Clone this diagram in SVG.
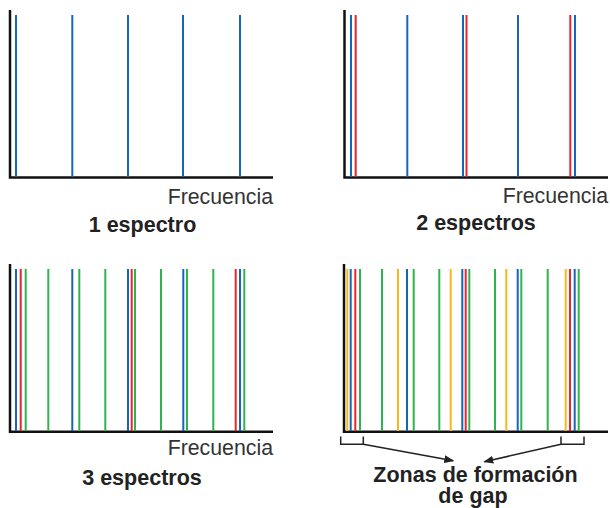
<svg xmlns="http://www.w3.org/2000/svg" width="610" height="508" viewBox="0 0 610 508">
<defs>
<marker id="arr" markerWidth="10" markerHeight="8" refX="9" refY="4" orient="auto" markerUnits="userSpaceOnUse">
<path d="M0,0 L10,4 L0,8 Z" fill="#222"/>
</marker>
</defs>
<style>
.ax{stroke:#111;stroke-width:2.5;fill:none}
.b{stroke:#1565b8;stroke-width:2}
.r{stroke:#ec2330;stroke-width:2}
.g{stroke:#2fb34c;stroke-width:2}
.y{stroke:#f9b818;stroke-width:2}
.freq{font-family:"Liberation Sans",Arial,sans-serif;font-size:21.3px;fill:#333;text-anchor:end}
.ttl{font-family:"Liberation Sans",Arial,sans-serif;font-size:21.5px;font-weight:bold;fill:#222;text-anchor:middle}
.br{stroke:#222;stroke-width:1.5;fill:none}
</style>
<rect width="610" height="508" fill="#fff"/>

<g id="panel1">
<path class="ax" d="M10,10 V177.5 H273"/>
<g>
<line class="b" x1="16" y1="15" x2="16" y2="177"/>
<line class="b" x1="72.3" y1="15" x2="72.3" y2="177"/>
<line class="b" x1="128" y1="15" x2="128" y2="177"/>
<line class="b" x1="183" y1="15" x2="183" y2="177"/>
<line class="b" x1="240" y1="15" x2="240" y2="177"/>
</g>
<text class="freq" x="273" y="204">Frecuencia</text>
<text class="ttl" x="142.5" y="232">1 espectro</text>
</g>

<g id="panel2">
<path class="ax" d="M344.5,10 V177.5 H608"/>
<g>
<line class="b" x1="351" y1="15" x2="351" y2="177"/>
<line class="r" x1="355.7" y1="15" x2="355.7" y2="177"/>
<line class="b" x1="407.3" y1="15" x2="407.3" y2="177"/>
<line class="b" x1="463" y1="15" x2="463" y2="177"/>
<line class="r" x1="466.5" y1="15" x2="466.5" y2="177"/>
<line class="b" x1="518" y1="15" x2="518" y2="177"/>
<line class="r" x1="570.3" y1="15" x2="570.3" y2="177"/>
<line class="b" x1="575" y1="15" x2="575" y2="177"/>
</g>
<text class="freq" x="608" y="203">Frecuencia</text>
<text class="ttl" x="476" y="230">2 espectros</text>
</g>

<g id="panel3">
<path class="ax" d="M10,264 V431.7 H273"/>
<g>
<line class="b" x1="16" y1="269" x2="16" y2="431"/>
<line class="r" x1="20.7" y1="269" x2="20.7" y2="431"/>
<line class="g" x1="25.7" y1="269" x2="25.7" y2="431"/>
<line class="g" x1="48.3" y1="269" x2="48.3" y2="431"/>
<line class="b" x1="72.3" y1="269" x2="72.3" y2="431"/>
<line class="g" x1="79.3" y1="269" x2="79.3" y2="431"/>
<line class="g" x1="105.3" y1="269" x2="105.3" y2="431"/>
<line class="b" x1="128" y1="269" x2="128" y2="431"/>
<line class="r" x1="131.7" y1="269" x2="131.7" y2="431"/>
<line class="g" x1="135" y1="269" x2="135" y2="431"/>
<line class="g" x1="161" y1="269" x2="161" y2="431"/>
<line class="b" x1="183.3" y1="269" x2="183.3" y2="431"/>
<line class="g" x1="187" y1="269" x2="187" y2="431"/>
<line class="g" x1="213.3" y1="269" x2="213.3" y2="431"/>
<line class="r" x1="235.7" y1="269" x2="235.7" y2="431"/>
<line class="b" x1="240" y1="269" x2="240" y2="431"/>
<line class="g" x1="244.3" y1="269" x2="244.3" y2="431"/>
</g>
<text class="freq" x="273" y="455">Frecuencia</text>
<text class="ttl" x="142" y="485">3 espectros</text>
</g>

<g id="panel4">
<path class="ax" d="M344,264 V431.7 H608"/>
<g>
<line class="y" x1="347.3" y1="269" x2="347.3" y2="431"/>
<line class="b" x1="350.7" y1="269" x2="350.7" y2="431"/>
<line class="r" x1="355.3" y1="269" x2="355.3" y2="431"/>
<line class="g" x1="360" y1="269" x2="360" y2="431"/>
<line class="g" x1="382" y1="269" x2="382" y2="431"/>
<line class="y" x1="398" y1="269" x2="398" y2="431"/>
<line class="b" x1="407" y1="269" x2="407" y2="431"/>
<line class="g" x1="413.7" y1="269" x2="413.7" y2="431"/>
<line class="g" x1="439.3" y1="269" x2="439.3" y2="431"/>
<line class="y" x1="450.7" y1="269" x2="450.7" y2="431"/>
<line class="b" x1="462.3" y1="269" x2="462.3" y2="431"/>
<line class="r" x1="465.7" y1="269" x2="465.7" y2="431"/>
<line class="g" x1="469.3" y1="269" x2="469.3" y2="431"/>
<line class="g" x1="495" y1="269" x2="495" y2="431"/>
<line class="y" x1="506.3" y1="269" x2="506.3" y2="431"/>
<line class="b" x1="517.7" y1="269" x2="517.7" y2="431"/>
<line class="g" x1="521.3" y1="269" x2="521.3" y2="431"/>
<line class="g" x1="547.7" y1="269" x2="547.7" y2="431"/>
<line class="y" x1="565.7" y1="269" x2="565.7" y2="431"/>
<line class="r" x1="570" y1="269" x2="570" y2="431"/>
<line class="b" x1="574.7" y1="269" x2="574.7" y2="431"/>
<line class="g" x1="578.7" y1="269" x2="578.7" y2="431"/>
</g>
<text class="ttl" x="475.5" y="481.5">Zonas de formación<tspan x="473" dy="21.8">de gap</tspan></text>
</g>

<g id="connectors">
<path class="br" d="M340.7,436.5 V444.3 H363.3 V436.5"/>
<path class="br" d="M561,436.5 V444.3 H584 V436.5"/>
<line class="br" x1="363.3" y1="444.3" x2="453.3" y2="460.7" marker-end="url(#arr)"/>
<line class="br" x1="561" y1="444.3" x2="484.3" y2="461.7" marker-end="url(#arr)"/>
</g>
</svg>
